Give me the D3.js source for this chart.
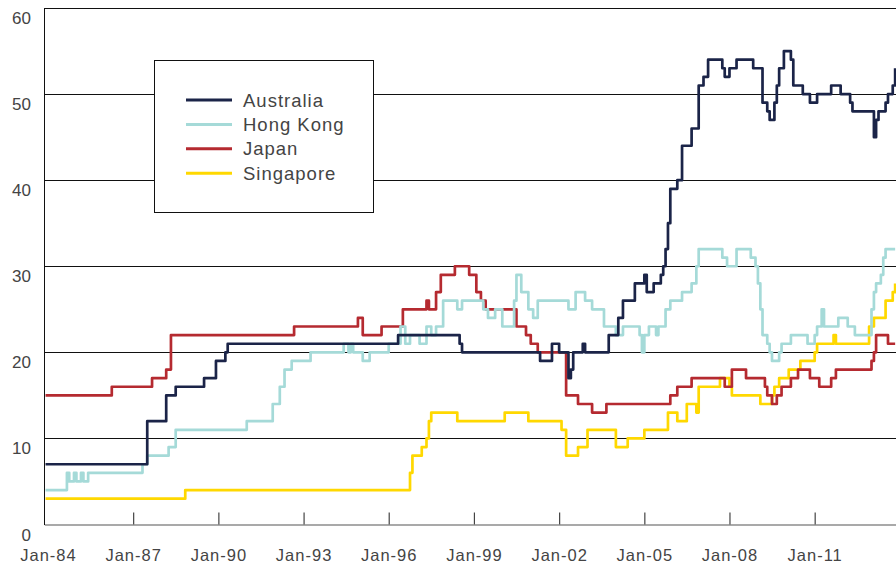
<!DOCTYPE html>
<html>
<head>
<meta charset="utf-8">
<script src="https://cdn.jsdelivr.net/npm/d3@7"></script>
<style>
  body { margin: 0; background: #fff; }
  text { font-family: "Liberation Sans", Arial, sans-serif; fill: #444; }
</style>
</head>
<body>
<div id="chart-area"></div>
<script>
// Data: [month, value] at each change, series hold the value until the next entry
const australia = [
  ["1983-12", 7], ["1987-07", 12], ["1988-03", 15], ["1988-07", 16], ["1989-07", 17],
  ["1989-12", 19], ["1990-04", 20], ["1990-05", 21], ["1996-05", 22], ["1998-07", 21],
  ["1998-08", 20], ["2001-05", 19], ["2001-10", 21], ["2002-01", 20], ["2002-05", 17],
  ["2002-06", 18], ["2002-07", 20], ["2002-11", 21], ["2002-12", 20], ["2003-10", 22],
  ["2004-02", 24], ["2004-04", 26], ["2004-09", 28], ["2005-01", 29], ["2005-02", 27],
  ["2005-05", 28], ["2005-08", 29], ["2005-09", 30], ["2005-10", 32], ["2005-11", 35],
  ["2005-12", 39], ["2006-03", 40], ["2006-05", 44], ["2006-09", 46], ["2006-12", 51],
  ["2007-02", 52], ["2007-04", 54], ["2007-10", 53], ["2007-11", 52], ["2008-01", 53],
  ["2008-04", 54], ["2008-11", 53], ["2009-03", 49], ["2009-05", 48], ["2009-06", 47],
  ["2009-08", 49], ["2009-09", 51], ["2009-10", 53], ["2009-12", 55], ["2010-03", 54],
  ["2010-04", 51], ["2010-08", 50], ["2010-11", 49], ["2011-02", 50], ["2011-08", 51],
  ["2011-12", 50], ["2012-04", 49], ["2012-05", 48], ["2013-02", 45], ["2013-03", 47],
  ["2013-04", 48], ["2013-07", 49], ["2013-08", 50], ["2013-10", 51], ["2013-11", 53]
]
const hongKong = [
  ["1983-12", 4], ["1984-09", 6], ["1984-10", 5], ["1984-12", 6], ["1985-01", 5],
  ["1985-03", 6], ["1985-04", 5], ["1985-06", 6], ["1987-05", 7], ["1987-07", 8],
  ["1988-04", 9], ["1988-07", 11], ["1991-01", 12], ["1991-12", 14], ["1992-03", 16],
  ["1992-05", 18], ["1992-08", 19], ["1993-04", 20], ["1994-06", 21], ["1994-08", 20],
  ["1994-09", 21], ["1994-10", 20], ["1995-02", 19], ["1995-05", 20], ["1996-01", 21],
  ["1996-06", 23], ["1996-08", 21], ["1996-10", 22], ["1997-02", 21], ["1997-05", 23],
  ["1997-07", 22], ["1997-09", 23], ["1997-12", 26], ["1998-06", 25], ["1998-08", 26],
  ["1999-05", 25], ["1999-07", 24], ["1999-10", 25], ["2000-01", 23], ["2000-06", 26],
  ["2000-07", 29], ["2000-09", 27], ["2000-12", 25], ["2001-02", 24], ["2001-04", 26],
  ["2002-05", 25], ["2002-08", 27], ["2002-12", 26], ["2003-03", 25], ["2003-08", 23],
  ["2004-01", 22], ["2004-04", 23], ["2004-11", 22], ["2004-12", 20], ["2005-01", 22],
  ["2005-03", 23], ["2005-06", 22], ["2005-07", 23], ["2005-10", 25], ["2005-12", 26],
  ["2006-05", 27], ["2006-09", 28], ["2006-11", 30], ["2006-12", 32], ["2007-10", 31],
  ["2007-12", 30], ["2008-04", 32], ["2008-10", 31], ["2008-12", 30], ["2009-01", 28],
  ["2009-02", 25], ["2009-03", 22], ["2009-05", 21], ["2009-06", 20], ["2009-07", 19],
  ["2009-10", 20], ["2009-11", 21], ["2010-03", 22], ["2010-10", 21], ["2011-01", 22],
  ["2011-02", 23], ["2011-04", 25], ["2011-05", 23], ["2011-11", 24], ["2012-03", 23],
  ["2012-06", 22], ["2013-01", 25], ["2013-02", 27], ["2013-03", 28], ["2013-05", 29],
  ["2013-06", 31], ["2013-07", 32], ["2013-11", 32]
]
const japan = [
  ["1983-12", 15], ["1986-04", 16], ["1987-09", 17], ["1988-03", 18], ["1988-05", 22],
  ["1992-09", 23], ["1994-12", 24], ["1995-02", 22], ["1995-10", 23], ["1996-07", 25],
  ["1997-05", 26], ["1997-06", 25], ["1997-09", 27], ["1997-11", 29], ["1998-05", 30],
  ["1998-11", 29], ["1999-02", 27], ["1999-04", 26], ["1999-06", 25], ["2000-07", 23],
  ["2000-11", 22], ["2001-01", 21], ["2001-04", 20], ["2002-04", 15], ["2002-09", 14],
  ["2003-03", 13], ["2003-09", 14], ["2005-12", 15], ["2006-03", 16], ["2006-09", 17],
  ["2007-11", 16], ["2008-02", 18], ["2008-08", 17], ["2009-04", 16], ["2009-05", 15],
  ["2009-07", 14], ["2009-09", 15], ["2009-11", 16], ["2010-03", 17], ["2010-06", 18],
  ["2010-11", 17], ["2011-03", 16], ["2011-08", 17], ["2011-10", 18], ["2013-01", 19],
  ["2013-02", 20], ["2013-03", 22], ["2013-08", 21], ["2013-11", 21]
]
const singapore = [
  ["1983-12", 3], ["1988-11", 4], ["1996-10", 6], ["1996-11", 8], ["1997-03", 9],
  ["1997-05", 10], ["1997-06", 12], ["1997-07", 13], ["1998-06", 12], ["2000-02", 13],
  ["2000-12", 12], ["2002-02", 11], ["2002-04", 8], ["2002-09", 9], ["2003-01", 11],
  ["2004-01", 9], ["2004-06", 10], ["2005-01", 11], ["2005-11", 13], ["2006-03", 12],
  ["2006-07", 14], ["2006-11", 13], ["2006-12", 16], ["2007-09", 17], ["2008-01", 16],
  ["2008-02", 15], ["2009-02", 14], ["2009-07", 15], ["2009-08", 16], ["2009-10", 17],
  ["2010-02", 18], ["2010-07", 19], ["2011-01", 20], ["2011-02", 21], ["2011-09", 22],
  ["2011-10", 21], ["2012-12", 23], ["2013-02", 24], ["2013-07", 26], ["2013-10", 27],
  ["2013-11", 28]
]
const seriesNames = ["Australia", "Hong Kong", "Japan", "Singapore"]
const seriesColors = ["#1b2448", "#a5dad8", "#b52a30", "#ffd800"]
const tickYears = [1984, 1987, 1990, 1993, 1996, 1999, 2002, 2005, 2008, 2011]
const yTicks = [0, 10, 20, 30, 40, 50, 60]

// Layout
const W = 896, H = 570
const PLOT = { LEFT: 44.3, RIGHT: 896, TOP: 8, BOTTOM: 524.5 }

const svg = d3.select("#chart-area").append("svg")
  .attr("width", W)
  .attr("height", H)

const parseMonth = d3.timeParse("%Y-%m")

// Scales
const x = d3.scaleTime()
  .domain([new Date(1983, 10, 15), new Date(2013, 10, 12)])
  .range([PLOT.LEFT, PLOT.RIGHT])
const y = d3.scaleLinear()
  .domain([0, 60])
  .range([PLOT.BOTTOM, PLOT.TOP])

// Gridlines
svg.append("g")
  .selectAll("line")
  .data(yTicks.filter(d => d > 0))
  .join("line")
  .attr("x1", PLOT.LEFT)
  .attr("x2", PLOT.RIGHT)
  .attr("y1", d => y(d))
  .attr("y2", d => y(d))
  .attr("stroke", "#111")
  .attr("stroke-width", 1)
  .attr("shape-rendering", "crispEdges")

// Y labels (sit a little below their gridline, as in the original)
svg.append("g")
  .selectAll("text")
  .data(yTicks)
  .join("text")
  .attr("x", 31)
  .attr("y", d => y(d) + 16)
  .attr("text-anchor", "end")
  .style("font-size", "17px")
  .text(d => d)

// X axis, ticks point up
const xAxis = d3.axisBottom(x)
  .tickValues(tickYears.map(yr => new Date(yr, 0, 1)))
  .tickFormat(d3.timeFormat("%b-%y"))
  .tickSizeInner(-12)
  .tickSizeOuter(0)
  .tickPadding(25)

const gx = svg.append("g")
  .attr("transform", `translate(0,${PLOT.BOTTOM})`)
  .call(xAxis)
gx.select(".domain").attr("stroke", "#555").attr("stroke-width", 1.2)
gx.selectAll(".tick line").attr("stroke", "#444").attr("stroke-width", 1.2)
gx.selectAll(".tick").filter((d, i) => i === 0).select("line").remove()
gx.selectAll(".tick text")
  .attr("fill", "#444")
  .style("font-size", "16.5px")
  .style("letter-spacing", "1px")
  .style("font-family", "'Liberation Sans', Arial, sans-serif")

// Left axis line
svg.append("line")
  .attr("x1", PLOT.LEFT).attr("x2", PLOT.LEFT)
  .attr("y1", PLOT.TOP).attr("y2", PLOT.BOTTOM)
  .attr("stroke", "#111")
  .attr("shape-rendering", "crispEdges")

// Lines
svg.append("clipPath").attr("id", "plot-clip")
  .append("rect")
  .attr("x", PLOT.LEFT).attr("y", 0)
  .attr("width", PLOT.RIGHT - PLOT.LEFT).attr("height", PLOT.BOTTOM + 2)

const line = d3.line()
  .x(d => x(parseMonth(d[0])))
  .y(d => y(d[1]))
  .curve(d3.curveStepAfter)

const seriesValues = [australia, hongKong, japan, singapore]
const series = seriesNames.map((name, i) => ({ name, color: seriesColors[i], values: seriesValues[i] }))

svg.append("g")
  .attr("clip-path", "url(#plot-clip)")
  .selectAll("path")
  .data(series.slice().reverse())
  .join("path")
  .attr("d", d => line(d.values))
  .attr("fill", "none")
  .attr("stroke", d => d.color)
  .attr("stroke-width", 2.7)
  .attr("stroke-linejoin", "round")

// Legend
const legend = svg.append("g")
legend.append("rect")
  .attr("x", 154.5).attr("y", 60.5)
  .attr("width", 219).attr("height", 152)
  .attr("fill", "#fff")
  .attr("stroke", "#111")
  .attr("stroke-width", 1)

const items = legend.selectAll(".item")
  .data(series)
  .join("g")
  .attr("class", "item")
  .attr("transform", (d, i) => `translate(186,${100 + i * 24.4})`)
items.append("line")
  .attr("x1", 0).attr("x2", 46)
  .attr("stroke", d => d.color)
  .attr("stroke-width", 3)
items.append("text")
  .attr("x", 57)
  .attr("y", 6.5)
  .style("font-size", "18.5px")
  .style("letter-spacing", "1px")
  .text(d => d.name)
</script>
</body>
</html>
